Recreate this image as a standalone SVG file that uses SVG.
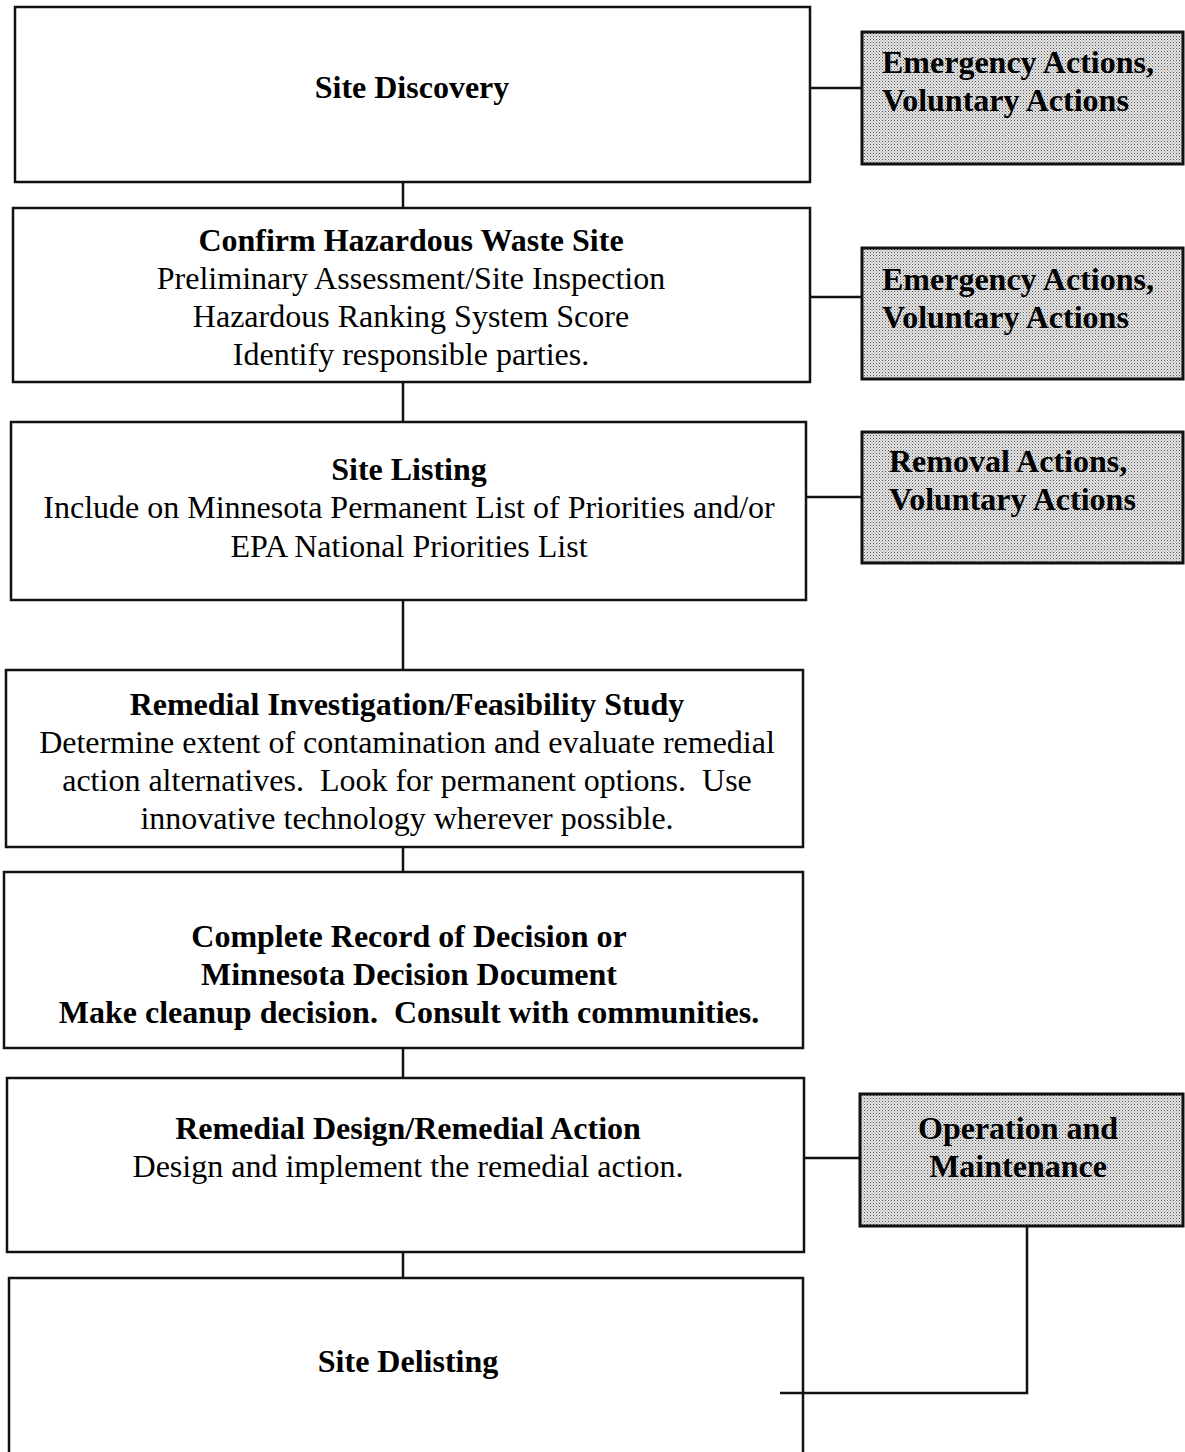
<svg xmlns="http://www.w3.org/2000/svg" width="1185" height="1452" viewBox="0 0 1185 1452">
<style>
.box{fill:#fff;stroke:#111;stroke-width:2.5}
.gbox{fill:url(#dots);stroke:#111;stroke-width:3}
.conn{fill:none;stroke:#111;stroke-width:2.5}
text{font-family:"Liberation Serif","Times New Roman",serif;font-size:32px;fill:#000;white-space:pre}
.c{text-anchor:middle}
.b{font-weight:bold}
.g{font-weight:bold;font-size:32px}
</style>
<defs>
<pattern id="dots" width="3" height="3" patternUnits="userSpaceOnUse">
<rect width="3" height="3" fill="#e4e4e4"/>
<rect width="1" height="1" fill="#555"/>
<rect x="1.5" y="1.5" width="1" height="1" fill="#888"/>
</pattern>
</defs>
<g id="site-discovery">
<rect class="box" x="15" y="7" width="795" height="175"/>
<text class="c b" x="412" y="98">Site Discovery</text>
</g>
<g id="confirm">
<rect class="box" x="13" y="208" width="797" height="174"/>
<text class="c b" x="411" y="251">Confirm Hazardous Waste Site</text>
<text class="c" x="411" y="289">Preliminary Assessment/Site Inspection</text>
<text class="c" x="411" y="327">Hazardous Ranking System Score</text>
<text class="c" x="411" y="365">Identify responsible parties.</text>
</g>
<g id="site-listing">
<rect class="box" x="11" y="422" width="795" height="178"/>
<text class="c b" x="409" y="480">Site Listing</text>
<text class="c" x="409" y="518">Include on Minnesota Permanent List of Priorities and/or</text>
<text class="c" x="409" y="557">EPA National Priorities List</text>
</g>
<g id="ri-fs">
<rect class="box" x="6" y="670" width="797" height="177"/>
<text class="c b" x="407" y="715">Remedial Investigation/Feasibility Study</text>
<text class="c" x="407" y="753">Determine extent of contamination and evaluate remedial</text>
<text class="c" x="407" y="791">action alternatives.  Look for permanent options.  Use</text>
<text class="c" x="407" y="829">innovative technology wherever possible.</text>
</g>
<g id="record-of-decision">
<rect class="box" x="4" y="872" width="799" height="176"/>
<text class="c b" x="409" y="947">Complete Record of Decision or</text>
<text class="c b" x="409" y="985">Minnesota Decision Document</text>
<text class="c b" x="409" y="1023">Make cleanup decision.  Consult with communities.</text>
</g>
<g id="rd-ra">
<rect class="box" x="7" y="1078" width="797" height="174"/>
<text class="c b" x="408" y="1139">Remedial Design/Remedial Action</text>
<text class="c" x="408" y="1177">Design and implement the remedial action.</text>
</g>
<g id="site-delisting">
<rect class="box" x="9" y="1278" width="794" height="190"/>
<text class="c b" x="408" y="1372">Site Delisting</text>
</g>
<g id="emergency-1">
<rect class="gbox" x="862" y="32" width="321" height="132"/>
<text class="g" x="882" y="73">Emergency Actions,</text>
<text class="g" x="882" y="111">Voluntary Actions</text>
</g>
<g id="emergency-2">
<rect class="gbox" x="862" y="248" width="321" height="131"/>
<text class="g" x="882" y="290">Emergency Actions,</text>
<text class="g" x="882" y="328">Voluntary Actions</text>
</g>
<g id="removal">
<rect class="gbox" x="862" y="432" width="321" height="131"/>
<text class="g" x="889" y="472">Removal Actions,</text>
<text class="g" x="889" y="510">Voluntary Actions</text>
</g>
<g id="o-and-m">
<rect class="gbox" x="860" y="1094" width="323" height="132"/>
<text class="g c" x="1018" y="1139">Operation and</text>
<text class="g c" x="1018" y="1177">Maintenance</text>
</g>
<g id="connectors">
<line class="conn" x1="403" y1="182" x2="403" y2="208"/>
<line class="conn" x1="403" y1="382" x2="403" y2="422"/>
<line class="conn" x1="403" y1="600" x2="403" y2="670"/>
<line class="conn" x1="403" y1="847" x2="403" y2="872"/>
<line class="conn" x1="403" y1="1048" x2="403" y2="1078"/>
<line class="conn" x1="403" y1="1252" x2="403" y2="1278"/>
<line class="conn" x1="810" y1="88" x2="862" y2="88"/>
<line class="conn" x1="810" y1="297" x2="862" y2="297"/>
<line class="conn" x1="806" y1="497" x2="862" y2="497"/>
<line class="conn" x1="804" y1="1158" x2="860" y2="1158"/>
<polyline class="conn" points="1027,1226 1027,1393 780,1393"/>
</g>
</svg>
